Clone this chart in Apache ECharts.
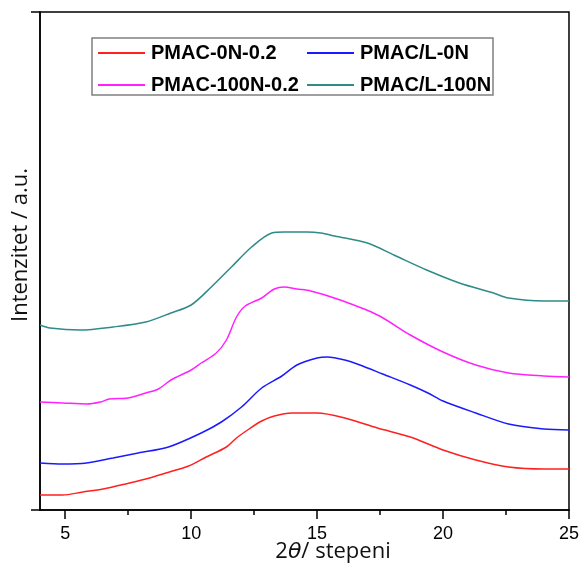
<!DOCTYPE html>
<html>
<head>
<meta charset="utf-8">
<script src="https://cdn.jsdelivr.net/npm/echarts@6/dist/echarts.min.js"></script>
<style>
html,body{margin:0;padding:0;background:#fff;}
#c{width:582px;height:565px;}
</style>
</head>
<body>
<div id="c"></div>
<script>
var seriesNames = ['PMAC-0N-0.2', 'PMAC/L-0N', 'PMAC-100N-0.2', 'PMAC/L-100N'];
var xTickLabels = [5, 10, 15, 20, 25];
var xMinorTicks = [7.5, 12.5, 17.5, 22.5];

var redX = [4.0, 4.9, 5.7, 6.5, 7.4, 8.2, 9.0, 9.9, 10.6, 11.4, 11.8, 12.3, 12.8, 13.3, 14.0, 14.6, 15.0, 16.1, 17.4, 18.7, 20.0, 21.3, 22.6, 24.0, 25.0];
var redY = [15, 15, 18, 21, 26, 31, 37, 44, 53, 63, 72, 81, 89, 94, 97, 97, 97, 92, 82, 73, 60, 50, 43, 41, 41];

var blueX = [4.0, 4.9, 5.85, 6.9, 7.9, 9.1, 10.4, 11.2, 12.0, 12.8, 13.6, 14.2, 15.0, 15.4, 16.1, 16.7, 17.6, 18.7, 19.4, 20.0, 21.3, 22.6, 24.0, 25.0];
var blueY = [47, 46, 47, 52, 57, 63, 77, 88, 103, 122, 134, 145, 152, 153, 150, 145, 136, 125, 117, 109, 97, 86, 81, 80];

var magentaX = [4.0, 4.9, 5.85, 6.4, 6.75, 7.5, 8.2, 8.7, 9.2, 10.0, 10.4, 11.0, 11.4, 11.8, 12.15, 12.8, 13.3, 13.7, 14.2, 14.75, 15.8, 17.4, 18.7, 20.0, 21.3, 22.6, 24.0, 25.0];
var magentaY = [108, 107, 106, 108, 111, 112, 117, 121, 130, 140, 147, 157, 170, 193, 204, 212, 221, 223, 221, 219, 211, 195, 175, 158, 145, 137, 134, 133];

var tealX = [4.0, 4.4, 5.6, 6.9, 8.2, 9.2, 10.0, 10.8, 11.6, 12.4, 13.2, 13.7, 14.6, 15.15, 15.7, 17.0, 18.05, 19.35, 20.65, 22.0, 22.6, 24.0, 25.0];
var tealY = [185, 182, 180, 183, 188, 197, 205, 223, 243, 263, 277, 278, 278, 277, 274, 267, 255, 240, 227, 217, 212, 209, 209];

var colors = ['#ff2020', '#1a1aff', '#ff22ff', '#2e8b87'];

function pairs(xs, ys) {
  return xs.map(function (x, i) { return [x, ys[i]]; });
}

var chart = echarts.init(document.getElementById('c'));

function mkSeries(i, xs, ys) {
  return {
    name: seriesNames[i],
    type: 'line',
    data: pairs(xs, ys),
    symbol: 'none',
    smooth: 0.3,
    lineStyle: { color: colors[i], width: 1.5 },
    itemStyle: { color: colors[i] }
  };
}

function mkLegend(i, left, top) {
  return {
    data: [{ name: seriesNames[i], icon: 'rect' }],
    left: left,
    top: top,
    padding: 0,
    itemWidth: 47,
    itemHeight: 2,
    itemGap: 0,
    textStyle: { fontFamily: 'Liberation Sans', fontWeight: 'bold', fontSize: 20, color: '#000', padding: [0, 0, 0, 1] }
  };
}

chart.setOption({
  animation: false,
  backgroundColor: '#fff',
  grid: { left: 40, right: 10, top: 12, bottom: 55, show: true, borderColor: '#000', borderWidth: 1.5, backgroundColor: 'transparent' },
  legend: [
    mkLegend(0, 98, 43),
    mkLegend(1, 307, 43),
    mkLegend(2, 98, 75),
    mkLegend(3, 307, 75)
  ],
  xAxis: [{
    type: 'value',
    min: 4,
    max: 25,
    splitLine: { show: false },
    axisLine: { show: true, onZero: false, lineStyle: { color: '#000', width: 1.5 } },
    axisTick: { show: true, length: 9, customValues: xTickLabels, lineStyle: { color: '#000', width: 1.5 } },
    axisLabel: { customValues: xTickLabels, color: '#000', fontSize: 18, fontFamily: 'Liberation Sans Narrow, Liberation Sans', margin: 15 }
  }, {
    type: 'value',
    min: 4,
    max: 25,
    position: 'bottom',
    splitLine: { show: false },
    axisLine: { show: false },
    axisTick: { show: true, length: 5, customValues: xMinorTicks, lineStyle: { color: '#000', width: 1.5 } },
    axisLabel: { show: false }
  }],
  yAxis: {
    type: 'value',
    min: 0,
    max: 498,
    interval: 498,
    splitLine: { show: false },
    axisLine: { show: true, onZero: false, lineStyle: { color: '#000', width: 1.5 } },
    axisTick: { show: true, length: 9, lineStyle: { color: '#000', width: 1.5 } },
    axisLabel: { show: false }
  },
  graphic: [
    {
      type: 'rect',
      shape: { x: 92, y: 38, width: 401, height: 57 },
      style: { fill: 'none', stroke: '#808080', lineWidth: 1.5 },
      z: 1
    },
    {
      type: 'text',
      x: 21,
      y: 245,
      rotation: Math.PI / 2,
      style: {
        text: 'Intenzitet / a.u.',
        font: '22px "Open Sans"',
        fill: '#111',
        align: 'center',
        verticalAlign: 'middle'
      }
    },
    {
      type: 'text',
      x: 333,
      y: 552,
      style: {
        text: '2{t|θ}/ stepeni',
        font: '22px "Open Sans"',
        fill: '#111',
        align: 'center',
        verticalAlign: 'middle',
        rich: {
          t: { fontStyle: 'italic', fontSize: 22, fontFamily: 'DejaVu Sans', fill: '#111' }
        }
      }
    }
  ],
  series: [
    mkSeries(0, redX, redY),
    mkSeries(1, blueX, blueY),
    mkSeries(2, magentaX, magentaY),
    mkSeries(3, tealX, tealY)
  ]
});
</script>
</body>
</html>
